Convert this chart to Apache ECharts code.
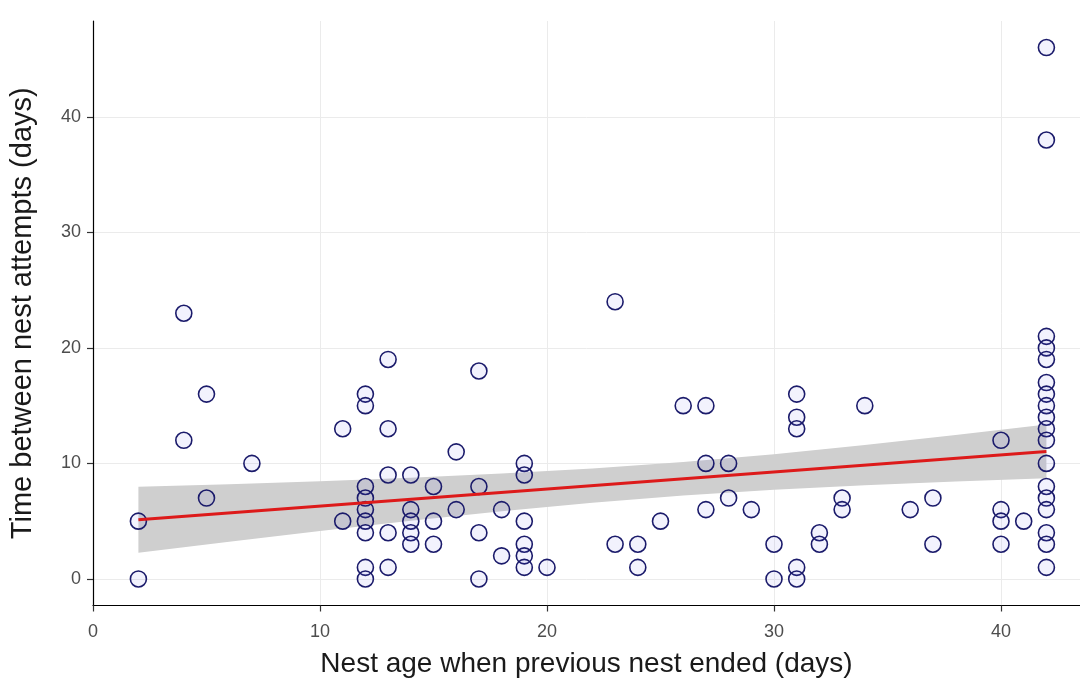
<!DOCTYPE html>
<html>
<head>
<meta charset="utf-8">
<script src="https://cdn.jsdelivr.net/npm/echarts@6/dist/echarts.min.js"></script>
<style>
html,body{margin:0;padding:0;background:#fff;}
#chart{width:1080px;height:688px;}
</style>
</head>
<body>
<div id="chart"></div>
<script>
// Observations: nest age when previous nest ended (x) and time between attempts (y)
const nestAge = [
  2,2,
  4,4,
  5,5,
  7,
  11,11,
  12,12,12,12,12,12,12,12,12,
  13,13,13,13,13,
  14,14,14,14,14,
  15,15,15,
  16,16,
  17,17,17,17,
  18,18,
  19,19,19,19,19,19,
  20,
  23,23,
  24,24,
  25,
  26,
  27,27,27,
  28,28,
  29,
  30,30,
  31,31,31,31,31,
  32,32,
  33,33,
  34,
  36,
  37,37,
  40,40,40,40,
  41,
  42,42,42,42,42,42,42,42,42,42,42,42,42,42,42,42,42,42
];
const timeBetween = [
  5,0,
  23,12,
  16,7,
  10,
  13,5,
  16,15,8,7,6,5,4,1,0,
  19,13,9,4,1,
  9,6,5,4,3,
  8,5,3,
  11,6,
  18,8,4,0,
  6,2,
  10,9,5,3,2,1,
  1,
  24,3,
  3,1,
  5,
  15,
  15,10,6,
  10,7,
  6,
  3,0,
  16,14,13,1,0,
  4,3,
  7,6,
  15,
  6,
  7,3,
  12,6,5,3,
  5,
  46,38,21,20,19,17,16,15,14,13,12,10,8,7,6,4,3,1
];
// Fitted linear trend
const fitX = [2, 42];
const fitY = [5.12, 11.04];
// Confidence band
const bandX     = [2,    6,    10,   14,   18,   22,   26,    30,    34,    38,    42];
const bandLower = [2.27, 3.22, 4.14, 5.03, 5.86, 6.60, 7.22,  7.72,  8.12,  8.44,  8.72];
const bandUpper = [7.97, 8.20, 8.46, 8.77, 9.12, 9.56, 10.12, 10.80, 11.60, 12.46, 13.36];
const xTicks = [0, 10, 20, 30, 40];
const yTicks = [0, 10, 20, 30, 40];

const points = nestAge.map((x, i) => [x, timeBetween[i]]);
const fitData = fitX.map((x, i) => [x, fitY[i]]);
const bandData = bandX.map((x, i) => [x, bandLower[i], bandUpper[i]]);

const chart = echarts.init(document.getElementById('chart'), null, {renderer: 'canvas'});
const FONT = '"Liberation Sans", Arial, sans-serif';

chart.setOption({
  animation: false,
  backgroundColor: '#ffffff',
  grid: {left: 93, right: 0, top: 21, bottom: 82.5, containLabel: false},
  xAxis: {
    type: 'value',
    min: 0, max: 43.48,
    name: 'Nest age when previous nest ended (days)',
    nameLocation: 'middle', nameGap: 45,
    nameTextStyle: {color: '#1a1a1a', fontSize: 28, fontFamily: FONT},
    axisLine: {show: true, onZero: false, lineStyle: {color: '#000', width: 1.2}},
    axisTick: {show: true, length: 6, lineStyle: {color: '#333', width: 1.2},
      customValues: xTicks},
    axisLabel: {color: '#4d4d4d', fontSize: 18, fontFamily: FONT, margin: 18,
      customValues: xTicks},
    splitLine: {show: true, lineStyle: {color: '#ebebeb', width: 1}}
  },
  yAxis: {
    type: 'value',
    min: -2.3, max: 48.3,
    name: 'Time between nest attempts (days)',
    nameLocation: 'middle', nameGap: 56,
    nameTextStyle: {color: '#1a1a1a', fontSize: 29, fontFamily: FONT},
    axisLine: {show: true, onZero: false, lineStyle: {color: '#000', width: 1.2}},
    axisTick: {show: true, length: 6, lineStyle: {color: '#333', width: 1.2},
      customValues: yTicks},
    axisLabel: {color: '#4d4d4d', fontSize: 18, fontFamily: FONT, margin: 12,
      customValues: yTicks},
    splitLine: {show: true, lineStyle: {color: '#ebebeb', width: 1}}
  },
  series: [
    {
      type: 'custom',
      name: 'band',
      z: 1,
      silent: true,
      data: [0],
      renderItem: function (params, api) {
        const upper = bandData.map(d => api.coord([d[0], d[2]]));
        const lower = bandData.slice().reverse().map(d => api.coord([d[0], d[1]]));
        return {
          type: 'polygon',
          shape: {points: upper.concat(lower)},
          style: {fill: '#cfcfcf'}
        };
      }
    },
    {
      type: 'scatter',
      name: 'obs',
      z: 2,
      symbol: 'circle',
      symbolSize: 16,
      data: points,
      itemStyle: {color: 'rgba(90,90,230,0.08)', borderColor: '#1b1b6b', borderWidth: 1.6, opacity: 1}
    },
    {
      type: 'line',
      name: 'fit',
      z: 3,
      data: fitData,
      showSymbol: false,
      symbol: 'none',
      lineStyle: {color: '#dd1a1a', width: 3}
    }
  ]
});
</script>
</body>
</html>
